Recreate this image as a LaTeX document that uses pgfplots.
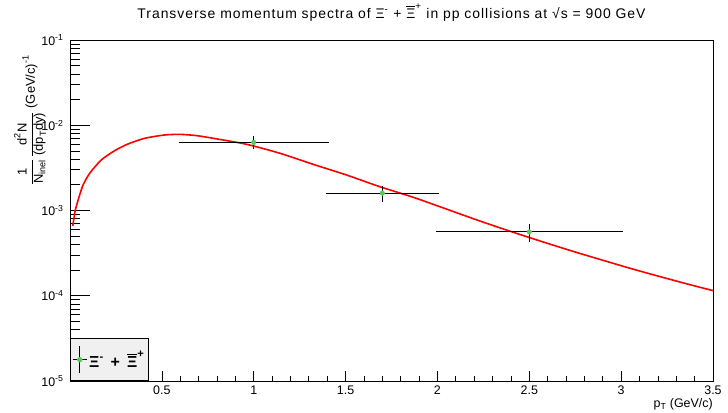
\documentclass[border=0pt]{standalone}
\usepackage{amsmath}
\usepackage{fontspec}
\setmainfont{Liberation Sans}
\usepackage{pgfplots}
\usepackage{pgfplotstable}
\pgfplotsset{compat=1.18}
\definecolor{ptgreen}{RGB}{85,205,85}

\pgfplotstableread{
x y ex ey
1.0 6.3e-3 0.4 1.1e-3
1.7 1.6e-3 0.3 0.33e-3
2.5 5.6e-4 0.5 1.3e-4
}\datatable

\pgfplotstableread{
x y
0.015 6.6e-4
0.029 1.01e-3
0.047 1.39e-3
0.071 1.99e-3
0.107 2.73e-3
0.170 3.91e-3
0.243 5.03e-3
0.316 6.03e-3
0.406 7.03e-3
0.515 7.69e-3
0.600 7.82e-3
0.690 7.55e-3
0.780 7.03e-3
0.961 5.98e-3
1.143 4.69e-3
1.324 3.48e-3
1.505 2.61e-3
1.687 1.90e-3
1.868 1.43e-3
2.049 1.04e-3
2.231 7.53e-4
2.412 5.56e-4
2.594 4.15e-4
2.775 3.14e-4
3.029 2.16e-4
3.210 1.68e-4
3.391 1.32e-4
3.500 1.15e-4
}\fittable

\begin{document}
\begin{tikzpicture}
\useasboundingbox (-70bp,-32bp) rectangle (658bp,381bp);
% x ticks only (shorter ticks)
\begin{axis}[
  at={(0,0)}, anchor=south west,
  scale only axis, width=643bp, height=341bp,
  xmin=0, xmax=3.5, ymode=log, ymin=1e-5, ymax=1e-1,
  tick align=inside, xtick pos=bottom, ytick pos=left,
  tick style={black, line width=0.7bp},
  axis line style={draw=none},
  major tick length=10bp, minor tick length=5bp,
  xtick={0,0.5,1,1.5,2,2.5,3,3.5},
  xticklabels={},
  minor x tick num=4,
  ytick=\empty, minor y tick num=0,
]
\addplot[draw=none, forget plot] coordinates {(1,1e-3)};
\end{axis}
% main axis
\begin{axis}[
  at={(0,0)}, anchor=south west,
  scale only axis, width=643bp, height=341bp,
  xmin=0, xmax=3.5, ymode=log, ymin=1e-5, ymax=1e-1,
  tick align=inside, xtick pos=bottom, ytick pos=left,
  tick style={black, line width=0.7bp},
  axis line style={line width=0.8bp},
  major tick length=20bp, minor tick length=10bp,
  xtick={0,0.5,1,1.5,2,2.5,3,3.5},
  xticklabels={,0.5,1,1.5,2,2.5,3,3.5},
  xtick style={draw=none},
  minor x tick num=0,
  ytick={1e-5,1e-4,1e-3,1e-2,1e-1},
  yticklabels={10\textsuperscript{-5},10\textsuperscript{-4},10\textsuperscript{-3},10\textsuperscript{-2},10\textsuperscript{-1}},
  ticklabel style={font=\fontsize{12.5}{14}\selectfont},
  xticklabel style={yshift=-1bp},
  yticklabel style={xshift=-3bp},
  xlabel={p\textsubscript{T} (GeV/c)},
  xlabel style={at={(rel axis cs:1,0)}, anchor=north east, yshift=-17bp, inner sep=0pt, font=\fontsize{12.5}{14}\selectfont},
  ylabel={$\dfrac{\text{1}}{\text{N}_{\text{inel}}}\,\dfrac{\text{d}^{\text{2}}\text{N}}{\text{(dp}_{\text{T}}\text{dy)}}\;\text{(GeV/c)}^{\text{-1}}$},
  ylabel style={at={(axis description cs:-0.062,0.956)}, anchor=east, inner sep=0pt, font=\fontsize{13}{15}\selectfont},
  title={Transverse momentum spectra of $\text{Ξ}^{\text{-}}$ + $\overline{\text{Ξ}}^{\text{+}}$ in pp collisions at √s = 900 GeV},
  title style={at={(0.5,1)}, anchor=base, yshift=16bp, inner sep=0pt, font=\fontsize{14}{16}\selectfont\addfontfeature{LetterSpace=7}},
  legend style={at={(0,0)}, anchor=south west, draw=black, line width=0.7bp, fill=gray!12,
    inner xsep=2bp, inner ysep=7bp, font=\fontsize{16}{18}\selectfont\bfseries},
  legend cell align=left,
]
\addlegendimage{legend image code/.code={
  \draw[black, line width=0.9bp] (7bp,-13.5bp) -- (7bp,13.5bp);
  \draw[black, line width=0.9bp] (0bp,0bp) -- (14bp,0bp);
  \fill[ptgreen] (7bp,0bp) circle (2.3bp);
}}
\addlegendentry{$\text{Ξ}^{\text{-}}$\hspace{7bp}+\hspace{7bp}$\overline{\text{Ξ}}^{\text{+}}$\hspace{3bp}}

\addplot[red, line width=1.6bp, smooth, tension=0.4, forget plot] table[x=x, y=y] {\fittable};

\addplot[draw=none, mark=none, forget plot,
  error bars/.cd, x dir=both, x explicit, error bar style={black, line width=1bp},
  error mark options={black, mark size=1.5bp, line width=1bp}]
  table[x=x, y=y, x error=ex] {\datatable};
\addplot[draw=none, mark=none, forget plot,
  error bars/.cd, y dir=both, y explicit, error bar style={black, line width=1.5bp},
  error mark=none]
  table[x=x, y=y, y error=ey] {\datatable};
\addplot[only marks, mark=*, mark size=2.3bp, mark options={fill=ptgreen, draw=ptgreen}, forget plot]
  table[x=x, y=y] {\datatable};
\end{axis}
\end{tikzpicture}
\end{document}
